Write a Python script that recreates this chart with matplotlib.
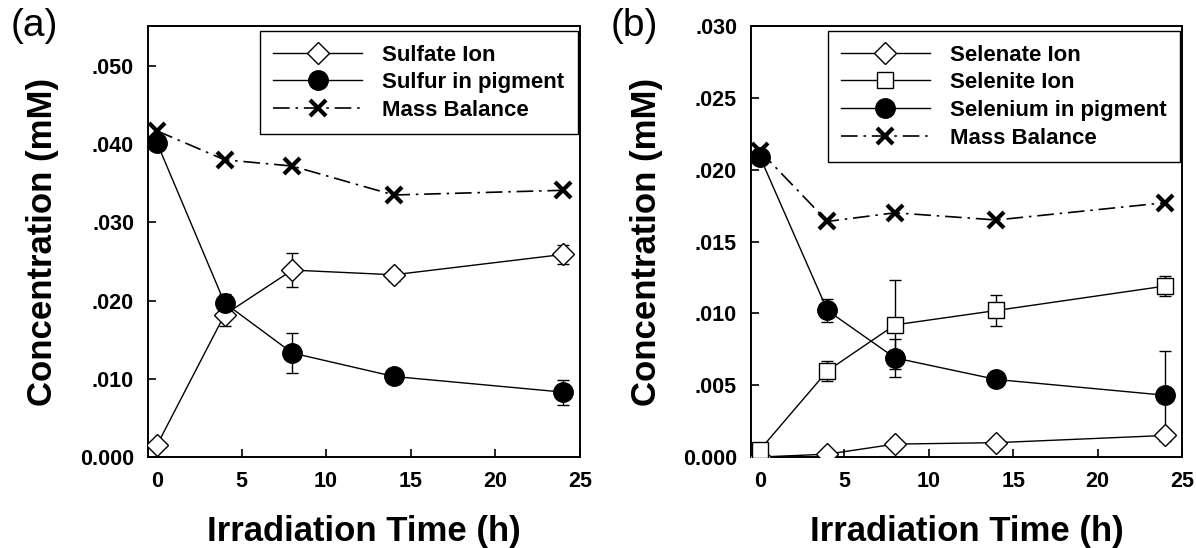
import matplotlib
matplotlib.use("Agg")
import matplotlib.pyplot as plt
from matplotlib.ticker import FuncFormatter

plt.rcParams['font.family'] = ['Liberation Sans', 'DejaVu Sans']

time_h = [0, 4, 8, 14, 24]

# panel (a)
sulfate = [0.0015, 0.0182, 0.0239, 0.0233, 0.0259]
sulfate_err = [0, 0.0015, 0.0022, 0.0008, 0.0012]
sulfur_pig = [0.0402, 0.0197, 0.0133, 0.0103, 0.0083]
sulfur_pig_err = [0, 0.0012, 0.0026, 0, 0.0016]
mass_a = [0.0417, 0.0380, 0.0372, 0.0335, 0.0341]

# panel (b)
selenate = [0.0000, 0.0002, 0.0009, 0.0010, 0.0015]
selenate_err = [0, 0, 0, 0, 0.0004]
selenite = [0.0005, 0.0060, 0.0092, 0.0102, 0.0119]
selenite_err = [0, 0.0007, 0.0031, 0.0011, 0.0007]
selenium_pig = [0.0209, 0.0102, 0.0069, 0.0054, 0.0043]
selenium_pig_err = [0, 0.0008, 0.0013, 0, 0.0031]
mass_b = [0.0213, 0.0164, 0.0170, 0.0165, 0.0177]

def fmt(v, pos):
    if abs(v) < 1e-9:
        return "0.000"
    return ("%.3f" % v)[1:]

fig = plt.figure(figsize=(11.96, 5.48), dpi=100)
ax1 = fig.add_axes([0.1237, 0.166, 0.3612, 0.7865])
ax2 = fig.add_axes([0.6279, 0.166, 0.3604, 0.7865])

solid = dict(color='black', lw=1.0, capsize=4, elinewidth=1.0, capthick=1.0)
mb_style = (0, (10, 3.5, 1.5, 3.5))

def draw_mass(ax, y):
    h, = ax.plot(time_h, y, color='black', lw=1.2, linestyle=mb_style,
                 marker='x', ms=12, mew=3, label='Mass Balance', zorder=4)
    return h

# (a)
h1 = ax1.errorbar(time_h, sulfate, yerr=sulfate_err, marker='D', ms=11.5, mfc='white',
                  mec='black', mew=1.0, label='Sulfate Ion', zorder=3, **solid)
h2 = ax1.errorbar(time_h, sulfur_pig, yerr=sulfur_pig_err, marker='o', ms=14, mfc='black',
                  mec='black', label='Sulfur in pigment', zorder=3, **solid)
h3 = draw_mass(ax1, mass_a)
ax1.set_ylim(0, 0.0551)
ax1.set_yticks([0, 0.01, 0.02, 0.03, 0.04, 0.05])
handles_a = [h1[0], h2[0], h3]
labels_a = ['Sulfate Ion', 'Sulfur in pigment', 'Mass Balance']

# (b)
g1 = ax2.errorbar(time_h, selenate, yerr=selenate_err, marker='D', ms=11.5, mfc='white',
                  mec='black', mew=1.0, label='Selenate Ion', zorder=3, **solid)
g2 = ax2.errorbar(time_h, selenite, yerr=selenite_err, marker='s', ms=11, mfc='white',
                  mec='black', mew=1.0, label='Selenite Ion', zorder=3, **solid)
g3 = ax2.errorbar(time_h, selenium_pig, yerr=selenium_pig_err, marker='o', ms=14, mfc='black',
                  mec='black', label='Selenium in pigment', zorder=3, **solid)
g4 = draw_mass(ax2, mass_b)
ax2.set_ylim(0, 0.030)
ax2.set_yticks([0, 0.005, 0.01, 0.015, 0.02, 0.025, 0.03])
handles_b = [g1[0], g2[0], g3[0], g4]
labels_b = ['Selenate Ion', 'Selenite Ion', 'Selenium in pigment', 'Mass Balance']

for ax, tag, hs, ls, tx in [(ax1, '(a)', handles_a, labels_a, 11),
                            (ax2, '(b)', handles_b, labels_b, 611)]:
    ax.set_xlim(-0.53, 25)
    ax.set_xticks([0, 5, 10, 15, 20, 25])
    ax.yaxis.set_major_formatter(FuncFormatter(fmt))
    ax.tick_params(direction='in', length=6, width=1.2, labelsize=15.5, pad=10)
    for lab in ax.get_xticklabels() + ax.get_yticklabels():
        lab.set_fontweight('bold')
    for s in ax.spines.values():
        s.set_linewidth(1.4)
    ax.set_xlabel('Irradiation Time (h)', fontsize=25, fontweight='bold')
    ax.set_ylabel('Concentration (mM)', fontsize=25, fontweight='bold')
    ax.xaxis.set_label_coords(0.5, -0.135)
    ax.yaxis.set_label_coords(-0.205, 0.5)
    leg = ax.legend(handles=hs, labels=ls,
                    loc='upper right', bbox_to_anchor=(0.995, 0.988),
                    fancybox=False, edgecolor='black', framealpha=1,
                    handlelength=4.0, borderaxespad=0.0, labelspacing=0.3,
                    prop={'weight': 'bold', 'size': 16}, handletextpad=0.9,
                    borderpad=0.6)
    leg.get_frame().set_linewidth(1.0)
    fig.text(tx / 1196, 1 - 8 / 548, tag, fontsize=28, va='top', ha='left')

fig.savefig('out.png', dpi=100)
